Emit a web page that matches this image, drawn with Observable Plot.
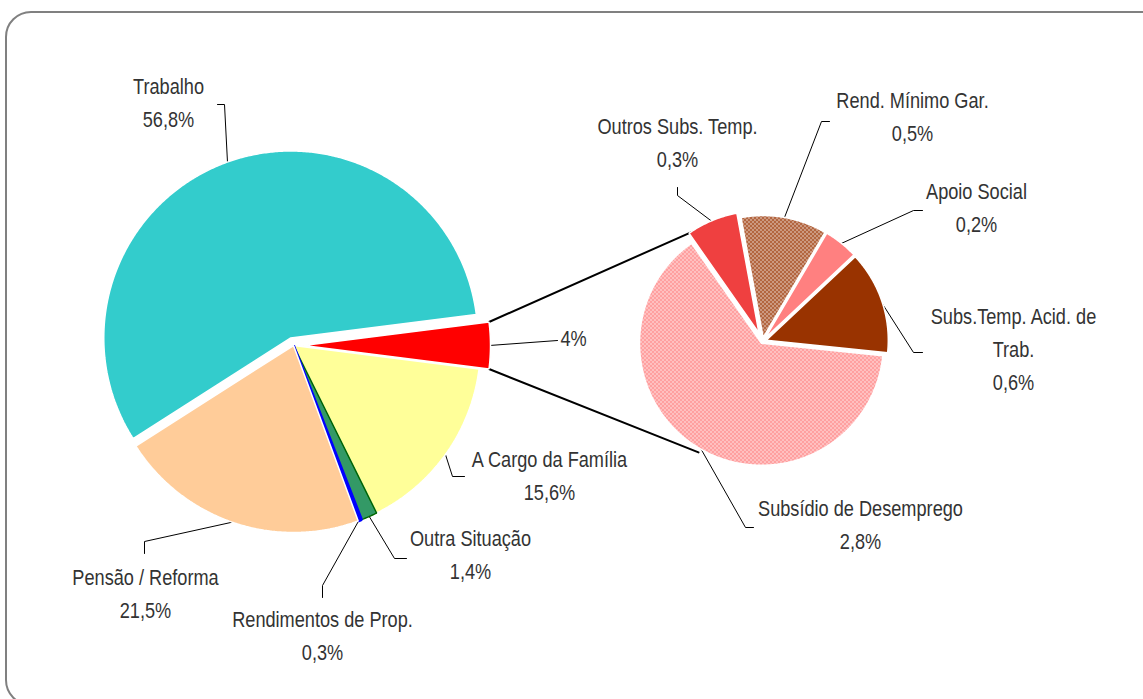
<!DOCTYPE html>
<html><head><meta charset="utf-8">
<script src="https://cdn.jsdelivr.net/npm/d3@7"></script>
<script src="https://cdn.jsdelivr.net/npm/@observablehq/plot@0.6"></script>
<style>
html,body{margin:0;padding:0;background:#fff;overflow:hidden;}
#wrap{position:relative;width:1143px;height:699px;overflow:hidden;background:#fff;}
#chart{position:absolute;left:0;top:0;}
#frame{position:absolute;left:5px;top:11px;width:1180px;height:695px;border:2px solid #808080;border-radius:26px;box-sizing:border-box;pointer-events:none;z-index:2;}
</style></head><body>
<div id="wrap"><div id="chart"></div><div id="frame"></div></div>
<script>
// ---------- DATA ----------
const mainCategories = ["Outros subsídios", "A Cargo da Família", "Outra Situação", "Rendimentos de Prop.", "Pensão / Reforma", "Trabalho"];
const mainValues = [4.0, 15.6, 1.4, 0.3, 21.5, 56.8];
const mainShowName = [false, true, true, true, true, true];
const mainColors = ["#FF0000", "#FFFF99", "#339966", "#0000FF", "#FFCC99", "#33CCCC"];
const mainStrokes = ["#FFFFFF", "#FFFFFF", "#006600", "#0000FF", "#FFFFFF", "#FFFFFF"];
const mainStrokeWidths = [1.5, 1.5, 1.5, 3, 1.5, 1.5];

const secondaryCategories = ["Subs.Temp. Acid. de\nTrab.", "Subsídio de Desemprego", "Outros Subs. Temp.", "Rend. Mínimo Gar.", "Apoio Social"];
const secondaryValues = [0.6, 2.8, 0.3, 0.5, 0.2];
const secondaryFills = ["#993300", "url(#pDesemp)", "url(#pOutros)", "url(#pRendMin)", "#FF8080"];

// ---------- LAYOUT (positions / styles) ----------
const MAIN = {cx: 293, cy: 345, r: 187, explode: [10, 0, 0, 0, 0, 8]};
const SEC = {cx: 762, cy: 341, r: 122, start: -43.2, explode: [4, 2, 9, 4, 4]};
const mainLabelLayout = [
  {x: 573, y: 345, elbow: [[557, 340]]},
  {x: 549, y: 466, elbow: [[452, 476], [464, 476]]},
  {x: 470, y: 545, elbow: [[394, 558], [406, 558]]},
  {x: 322, y: 626, elbow: [[322, 585], [322, 597]]},
  {x: 145, y: 584, elbow: [[144, 541], [144, 553]]},
  {x: 168, y: 93, elbow: [[224, 104], [217, 104]]}
];
const secLabelLayout = [
  {x: 1013, y: 323, elbow: [[913, 352], [922, 352]]},
  {x: 860, y: 515, elbow: [[745, 527], [753, 527]]},
  {x: 677, y: 133, elbow: [[677, 195], [677, 187]]},
  {x: 912, y: 107, elbow: [[821, 121], [829, 121]]},
  {x: 976, y: 198, elbow: [[913, 210], [922, 210]]}
];
const connectorEnds = [{angle: 243, dr: 7}, {angle: 120, dr: 6}];
const LINE_GAP = 33;
const FONT = "'Liberation Sans', Arial, sans-serif";
const FONT_SIZE = 22;

// ---------- GEOMETRY ----------
const rad = d => d * Math.PI / 180;
const fmt = v => (Number.isInteger(v) ? d3.format("d")(v) : d3.format(".1f")(v).replace(".", ",")) + "%";

function buildSlices(prefix, values, geo, start) {
  const total = d3.sum(values);
  let a = start;
  return values.map((v, i) => {
    const span = v / total * 360;
    const a0 = a, a1 = a + span; a = a1;
    const mid = (a0 + a1) / 2;
    const ox = geo.explode[i] * Math.cos(rad(mid)), oy = geo.explode[i] * Math.sin(rad(mid));
    const cx = geo.cx + ox, cy = geo.cy + oy;
    const pts = [[cx, cy]];
    const n = Math.max(2, Math.ceil(span / 0.5));
    for (let k = 0; k <= n; k++) {
      const t = rad(a0 + span * k / n);
      pts.push([cx + geo.r * Math.cos(t), cy + geo.r * Math.sin(t)]);
    }
    return {key: prefix + i, i, value: v, a0, a1, mid, cx, cy, pts,
      edge: (ang, dr = 0) => [cx + (geo.r + dr) * Math.cos(rad(ang)), cy + (geo.r + dr) * Math.sin(rad(ang))]};
  });
}

const mainTotal = d3.sum(mainValues);
const mainSlices = buildSlices("m", mainValues, MAIN, -mainValues[0] / mainTotal * 180);
const secSlices = buildSlices("s", secondaryValues, SEC, SEC.start);

const mainRows = mainSlices.flatMap(s => s.pts.map(([x, y]) => ({key: s.key, x, y, fill: mainColors[s.i], stroke: mainStrokes[s.i], sw: mainStrokeWidths[s.i]})));
const secRows = secSlices.flatMap(s => s.pts.map(([x, y]) => ({key: s.key, x, y, fill: secondaryFills[s.i], stroke: "#FFFFFF"})));

// connectors from the exploded group slice to the secondary pie
const g = mainSlices[0];
const gTop = g.edge(g.a0), gBot = g.edge(g.a1);
const secEnd = c => [SEC.cx + (SEC.r + c.dr) * Math.cos(rad(c.angle)), SEC.cy + (SEC.r + c.dr) * Math.sin(rad(c.angle))];
const connectorRows = [
  {key: "c0", x: gTop[0], y: gTop[1]}, {key: "c0", x: secEnd(connectorEnds[0])[0], y: secEnd(connectorEnds[0])[1]},
  {key: "c1", x: gBot[0], y: gBot[1]}, {key: "c1", x: secEnd(connectorEnds[1])[0], y: secEnd(connectorEnds[1])[1]}
];

// leader lines + labels
const leaderRows = [], textRows = [];
function addLabels(slices, layout, names, showName) {
  slices.forEach(s => {
    const L = layout[s.i];
    const p0 = s.edge(s.mid, -1);
    leaderRows.push({key: "l" + s.key, x: p0[0], y: p0[1]});
    L.elbow.forEach(([x, y]) => leaderRows.push({key: "l" + s.key, x, y}));
    const lines = (showName[s.i] ? names[s.i].split("\n") : []).concat([fmt(s.value)]);
    lines.forEach((t, j) => textRows.push({x: L.x, y: L.y + j * LINE_GAP, text: t}));
  });
}
addLabels(mainSlices, mainLabelLayout, mainCategories, mainShowName);
addLabels(secSlices, secLabelLayout, secondaryCategories, secondaryCategories.map(() => true));

// ---------- PLOT ----------
const svg = Plot.plot({
  width: 1143, height: 699, margin: 0,
  x: {domain: [0, 1143], range: [0, 1143], axis: null},
  y: {domain: [0, 699], range: [0, 699], axis: null},
  color: {type: "identity"},
  style: {fontFamily: FONT, background: "transparent", overflow: "visible"},
  marks: [
    Plot.line(connectorRows, {x: "x", y: "y", z: "key", stroke: "#000", strokeWidth: 2}),
    Plot.line(leaderRows, {x: "x", y: "y", z: "key", stroke: "#000", strokeWidth: 1}),
    Plot.line(mainRows, {x: "x", y: "y", z: "key", fill: "fill", stroke: "stroke", strokeWidth: "sw", curve: "linear-closed", strokeLinejoin: "miter"}),
    Plot.line(secRows, {x: "x", y: "y", z: "key", fill: "fill", stroke: "stroke", strokeWidth: 1.5, curve: "linear-closed", strokeLinejoin: "miter"}),
    Plot.text(textRows, {x: "x", y: "y", text: "text", textAnchor: "middle", lineAnchor: "bottom", fontSize: FONT_SIZE, fill: "#333333"})
  ]
});

// patterns
const defs = d3.select(svg).insert("defs", ":first-child");
function pattern(id, colors, rows) {
  const h = rows.length, w = rows[0].length;
  const p = defs.append("pattern").attr("id", id).attr("patternUnits", "userSpaceOnUse").attr("width", w).attr("height", h);
  rows.forEach((row, yy) => [...row].forEach((c, xx) => p.append("rect").attr("x", xx).attr("y", yy).attr("width", 1).attr("height", 1).attr("fill", colors[c]).attr("shape-rendering", "crispEdges")));
}
pattern("pDesemp", {P: "#FF8080", W: "#FFFFFF"}, ["PWPW", "WPPP", "PWPW", "PPWP"]);
pattern("pOutros", {R: "#FF0000", W: "#FFFFFF", D: "#C00000"}, ["RW", "DR"]);
pattern("pRendMin", {B: "#993300", W: "#FFFFFF"}, ["BWBW", "WBBB", "BWBW", "BBWB"]);

// condensed look of the labels (narrow sans)
const ctx = document.createElement("canvas").getContext("2d");
ctx.font = `${FONT_SIZE}px ${FONT}`;
const sx = 205 / ctx.measureText("Subsídio de Desemprego").width;
d3.select(svg).selectAll("text").each(function() {
  const tr = this.getAttribute("transform") || "";
  this.setAttribute("transform", tr + ` scale(${sx.toFixed(3)},1)`);
});

document.getElementById("chart").appendChild(svg);
</script>
</body></html>
